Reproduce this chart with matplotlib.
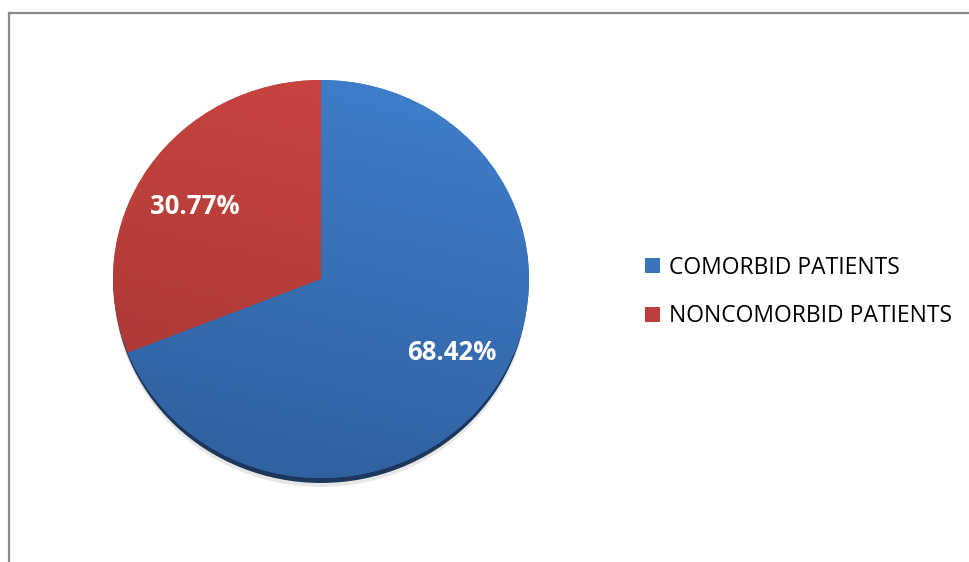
import matplotlib.pyplot as plt
import numpy as np
from matplotlib.lines import Line2D
from matplotlib.patches import Ellipse
from matplotlib.colors import LinearSegmentedColormap

labels = ['COMORBID PATIENTS', 'NONCOMORBID PATIENTS']
values = [68.42, 30.77]
colors = ['#3a73ba', '#bb3f3c']
shades = [('#3f80cc', '#2f5e9c'), ('#cb4641', '#a53532')]

W, H = 970, 562
fig = plt.figure(figsize=(W / 100, H / 100), dpi=100)

# pie area in pixels: centre (321, 279), half-width 208, half-height 199
cx, cy, rx, ry = 321, 279, 208, 199
ax = fig.add_axes([(cx - rx) / W, (H - cy - ry) / H, 2 * rx / W, 2 * ry / H])

# soft drop shadow and dark rim under the pie
ax.add_patch(Ellipse((0, -0.05), 1.99, 1.99, color='#bcbcbc', alpha=0.35, lw=0,
                     zorder=0, clip_on=False))
ax.add_patch(Ellipse((0, -0.03), 1.99, 1.99, color='#1c365c', lw=0,
                     zorder=0.5, clip_on=False))

wedges, _ = ax.pie(values, colors=colors, startangle=90, counterclock=False,
                   radius=1, frame=True)
ax.set_xlim(-1, 1)
ax.set_ylim(-1, 1)
ax.set_aspect('auto')
ax.axis('off')

# gradient fill clipped to each wedge
yy, xx = np.mgrid[1:-1:200j, -1:1:200j]
grad = (1 - yy) * 0.4 + (1 - xx) * 0.1
grad = grad / grad.max()
for w, (c0, c1) in zip(wedges, shades):
    cmap = LinearSegmentedColormap.from_list('g', [c0, c1])
    im = ax.imshow(grad, extent=(-1, 1, -1, 1), cmap=cmap, aspect='auto', zorder=2)
    im.set_clip_path(w)
    w.set_zorder(1)

# percentage labels
ax.text((452 - cx) / rx, (cy - 352) / ry, '68.42%', color='white',
        fontsize=18.5, fontweight='bold', family='Open Sans', ha='center', va='center', zorder=5)
ax.text((195 - cx) / rx, (cy - 206) / ry, '30.77%', color='white',
        fontsize=18.5, fontweight='bold', family='Open Sans', ha='center', va='center', zorder=5)

fig.legend(wedges, labels, loc='center left', bbox_to_anchor=(624 / W, 1 - 292 / H),
           frameon=False, prop={'family': 'Open Sans', 'size': 16.5},
           handlelength=0.65, handleheight=0.65, handletextpad=0.4, labelspacing=1.08)

# chart area border (left and top edges)
fig.add_artist(Line2D([9.5 / W, 9.5 / W], [0, 1 - 12.5 / H], color='#8a8a8a', lw=1.6))
fig.add_artist(Line2D([9.5 / W, 1], [1 - 12.5 / H, 1 - 12.5 / H], color='#8a8a8a', lw=1.6))

fig.savefig('out.png', dpi=100)
